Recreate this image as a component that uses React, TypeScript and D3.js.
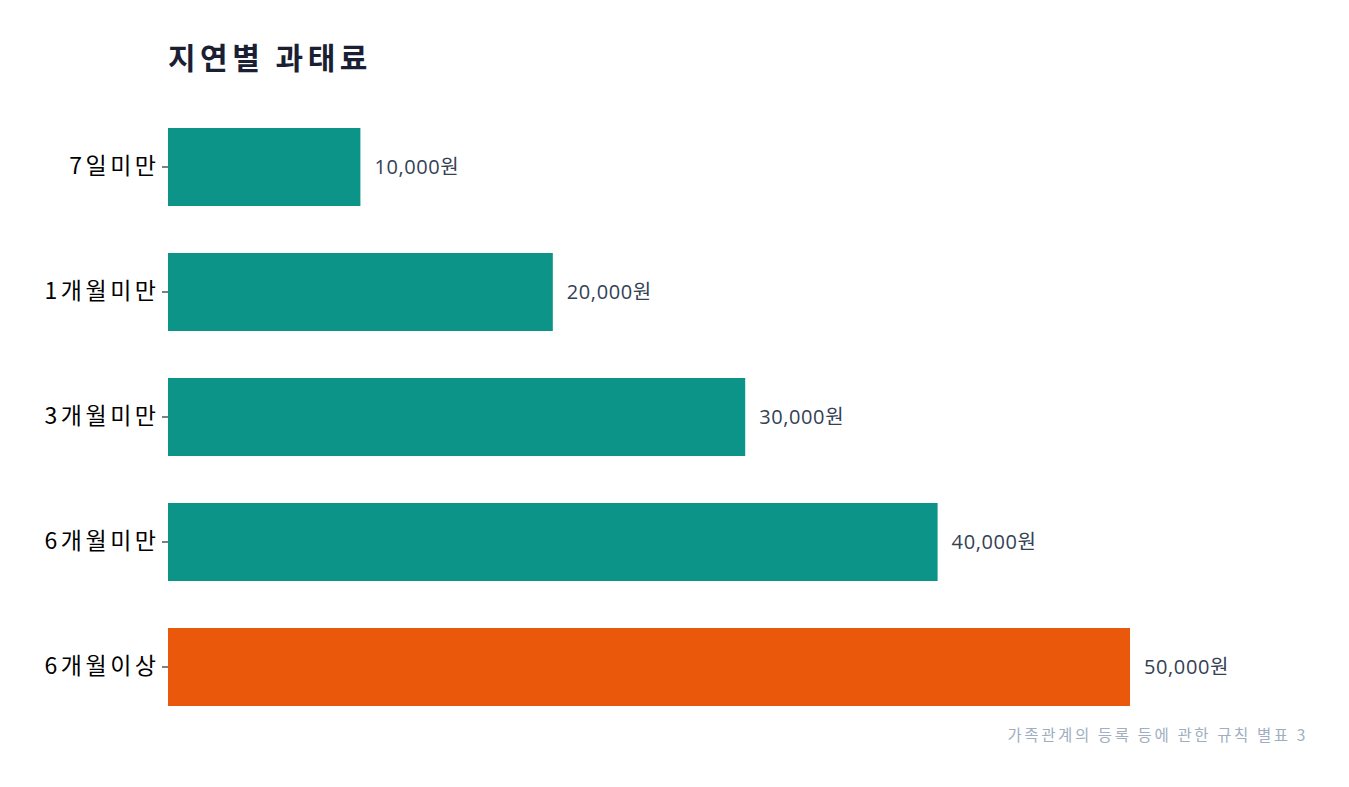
import { useEffect, useRef } from 'react';
import * as d3 from 'd3';

const CATEGORIES = ['7일미만', '1개월미만', '3개월미만', '6개월미만', '6개월이상'];
const FINES = [10000, 20000, 30000, 40000, 50000];
const HIGHLIGHT = ['6개월이상'];

const TITLE = '지연별 과태료';
const SOURCE = '가족관계의 등록 등에 관한 규칙 별표 3';

const KR = '"Noto Sans CJK KR", "Noto Sans", sans-serif';

export default function App() {
  const svgRef = useRef<SVGSVGElement>(null);

  useEffect(() => {
    if (!svgRef.current) return;
    const W = 1349, H = 787;
    const PAD = { t: 128, r: 219, b: 81, l: 168 };
    const svg = d3.select(svgRef.current);
    svg.selectAll('*').remove();
    svg.attr('viewBox', `0 0 ${W} ${H}`).attr('width', W).attr('height', H);

    const data = CATEGORIES.map((c, i) => ({ label: c, value: FINES[i] }));

    const x = d3.scaleLinear().domain([0, d3.max(FINES) ?? 1]).range([PAD.l, W - PAD.r]);
    const y = d3.scaleBand().domain(CATEGORIES).range([PAD.t, H - PAD.b]).paddingInner(0.376).paddingOuter(0);

    // Title
    svg.append('text')
      .attr('x', PAD.l).attr('y', 69)
      .attr('font-family', KR)
      .attr('font-size', 30).attr('font-weight', 700).attr('fill', '#1a2033')
      .attr('letter-spacing', 4.5)
      .text(TITLE);

    // Y axis (ticks + labels, no domain line)
    const ls = 3.5;
    const yAxis = svg.append('g')
      .attr('transform', `translate(${PAD.l},0)`)
      .call(d3.axisLeft(y).tickSize(6).tickPadding(6 - ls));
    yAxis.select('.domain').remove();
    yAxis.selectAll('line').attr('stroke', '#000');
    yAxis.selectAll('text')
      .attr('font-family', KR)
      .attr('font-size', 23).attr('fill', '#000')
      .attr('letter-spacing', ls);

    // Bars
    svg.append('g').selectAll('rect').data(data).enter()
      .append('rect')
      .attr('x', x(0)).attr('y', d => y(d.label) ?? 0)
      .attr('width', d => x(d.value) - x(0)).attr('height', y.bandwidth())
      .attr('fill', d => (HIGHLIGHT.includes(d.label) ? '#ea580c' : '#0d9488'));

    // Value labels
    svg.append('g').selectAll('text').data(data).enter()
      .append('text')
      .attr('x', d => x(d.value) + 14)
      .attr('y', d => (y(d.label) ?? 0) + y.bandwidth() / 2)
      .attr('dy', '0.35em')
      .attr('font-family', '"Open Sans", "Noto Sans CJK KR", sans-serif')
      .attr('font-size', 20).attr('fill', '#334155')
      .attr('letter-spacing', 0.6)
      .text(d => `${d3.format(',')(d.value)}원`);

    // Source
    svg.append('text')
      .attr('x', 1308).attr('y', 741)
      .attr('text-anchor', 'end')
      .attr('font-family', KR)
      .attr('font-size', 15.5).attr('fill', '#a0aec0')
      .attr('letter-spacing', 2.6)
      .text(SOURCE);
  }, []);

  return (
    <div style={{ position: 'absolute', left: 0, top: 0, background: '#fff' }}>
      <svg ref={svgRef} style={{ display: 'block' }} />
    </div>
  );
}
